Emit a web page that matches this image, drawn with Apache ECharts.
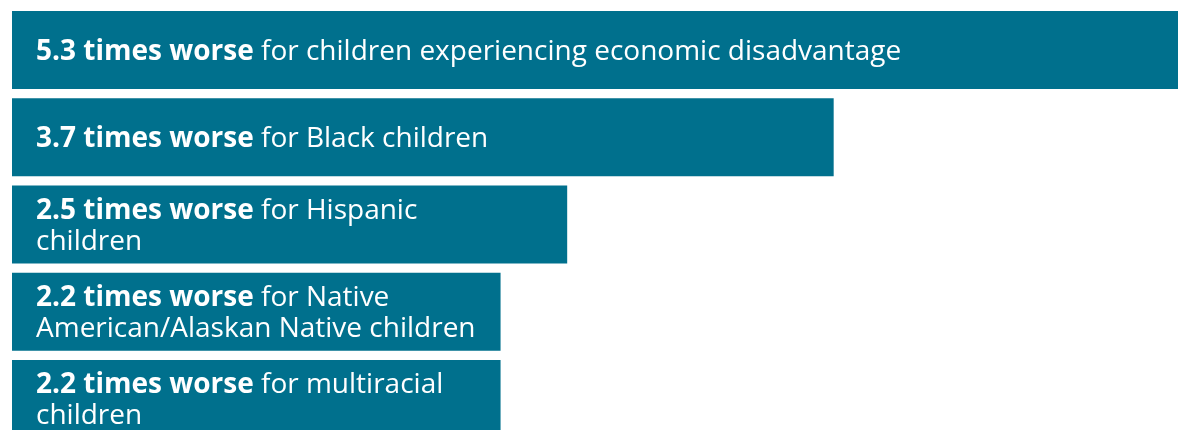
<!DOCTYPE html>
<html>
<head>
<meta charset="utf-8">
<style>html,body{margin:0;padding:0;background:#fff;}#c{width:1178px;height:430px;}</style>
<script src="https://cdn.jsdelivr.net/npm/echarts@6/dist/echarts.min.js"></script>
</head>
<body>
<div id="c"></div>
<script>
const values = [5.3, 3.7, 2.5, 2.2, 2.2];
const boldParts = ['5.3 times worse', '3.7 times worse', '2.5 times worse', '2.2 times worse', '2.2 times worse'];
const restParts = [
  ' for children experiencing economic disadvantage',
  ' for Black children',
  ' for Hispanic\nchildren',
  ' for Native\nAmerican/Alaskan Native children',
  ' for multiracial\nchildren'
];
const categories = ['Economic disadvantage', 'Black', 'Hispanic', 'Native American/Alaskan Native', 'Multiracial'];

function makeLabel(i) {
  const rest = restParts[i].split('\n');
  let s = '{b|' + boldParts[i] + '}{r|' + rest[0] + '}';
  for (let k = 1; k < rest.length; k++) s += '\n{r|' + rest[k] + '}';
  return s;
}

const chart = echarts.init(document.getElementById('c'), null, {renderer: 'canvas'});
const FONT = '"Open Sans", "Noto Sans", sans-serif';
chart.setOption({
  animation: false,
  grid: {left: 12, width: 1177, top: 6.5, height: 436, outerBoundsMode: 'none', containLabel: false},
  xAxis: {type: 'value', min: 0, max: 5.3, show: false},
  yAxis: {type: 'category', data: categories, inverse: true, show: false},
  series: [{
    type: 'bar',
    data: values,
    barWidth: 78,
    itemStyle: {color: '#00708D'},
    label: {
      show: true,
      position: 'insideLeft',
      distance: 24,
      offset: [0, 2],
      color: '#fff',
      formatter: function (p) { return makeLabel(p.dataIndex); },
      rich: {
        b: {fontFamily: FONT, fontWeight: 'bold', fontSize: 28, color: '#fff', lineHeight: 31},
        r: {fontFamily: FONT, fontWeight: 'normal', fontSize: 28, color: '#fff', lineHeight: 31}
      }
    }
  }]
});
</script>
</body>
</html>
